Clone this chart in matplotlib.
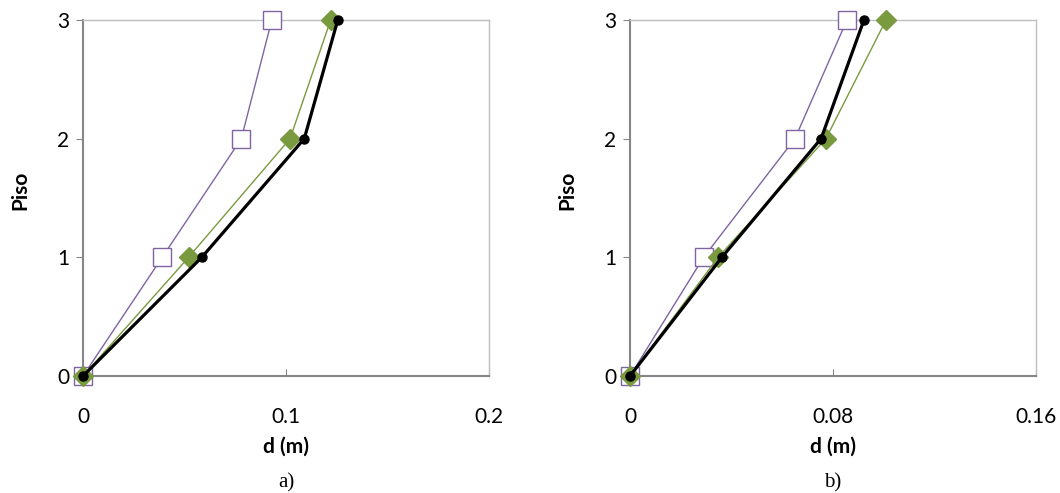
import matplotlib
matplotlib.use("Agg")
import matplotlib.pyplot as plt

pisos = [0, 1, 2, 3]

# panel a)
a_purple = [0.0, 0.039, 0.078, 0.093]
a_green = [0.0, 0.052, 0.102, 0.122]
a_black = [0.0, 0.0585, 0.109, 0.1255]
a_xticks = [0, 0.1, 0.2]
a_xticklabels = ["0", "0.1", "0.2"]

# panel b)
b_purple = [0.0, 0.029, 0.065, 0.0855]
b_green = [0.0, 0.0347, 0.0772, 0.1009]
b_black = [0.0, 0.0362, 0.0753, 0.0922]
b_xticks = [0, 0.08, 0.16]
b_xticklabels = ["0", "0.08", "0.16"]

captions = ["a)", "b)"]

tick_font = ["Lato", "DejaVu Sans"]
PURPLE = "#8064A2"
GREEN = "#7A9A40"

fig = plt.figure(figsize=(10.6, 4.93), dpi=100)

panels = [
    (83, a_purple, a_green, a_black, a_xticks, a_xticklabels, 0.2),
    (630, b_purple, b_green, b_black, b_xticks, b_xticklabels, 0.16),
]

for i, (x0, pur, grn, blk, xt, xtl, xmax) in enumerate(panels):
    ax = fig.add_axes([x0 / 1060, (493 - 376) / 493, 406 / 1060, 356 / 493])
    ax.plot(pur, pisos, color=PURPLE, lw=1.0, marker="s", ms=12.5,
            mfc="white", mec=PURPLE, mew=1.0, zorder=3)
    ax.plot(grn, pisos, color=GREEN, lw=1.0, marker="D", ms=10.5,
            mfc=GREEN, mec=GREEN, zorder=4)
    ax.plot(blk, pisos, color="black", lw=2.3, marker="o", ms=6.5,
            mfc="black", mec="black", zorder=5)
    ax.set_xlim(0, xmax)
    ax.set_ylim(0, 3)
    ax.set_xticks(xt)
    ax.set_xticklabels(xtl)
    ax.set_yticks(pisos)
    for s in ["left", "bottom"]:
        ax.spines[s].set_color("#868686")
        ax.spines[s].set_linewidth(1.5)
    for s in ["top", "right"]:
        ax.spines[s].set_color("#BFBFBF")
        ax.spines[s].set_linewidth(1.0)
    ax.tick_params(axis="x", direction="in", length=5, color="#868686",
                   pad=22, labelsize=15)
    ax.tick_params(axis="y", direction="out", length=5, color="#868686",
                   pad=5, labelsize=15)
    for lab in ax.get_xticklabels() + ax.get_yticklabels():
        lab.set_family(tick_font)
    ax.set_xlabel("d (m)", fontsize=15, fontweight="bold", family=tick_font)
    ax.xaxis.set_label_coords(0.5, -(447 - 376) / 356)
    ax.xaxis.label.set_va("center")
    ax.set_ylabel("Piso", fontsize=15, fontweight="bold", family=tick_font)
    ax.yaxis.set_label_coords(-63 / 406, (376 - 190) / 356)
    ax.yaxis.label.set_va("center")
    for c in ax.collections + ax.lines:
        c.set_clip_on(False)
    fig.text((x0 + 203) / 1060, 1 - 483 / 493, captions[i], ha="center", va="center",
             fontsize=15, family="Liberation Serif")

fig.savefig("out.png", dpi=100)
